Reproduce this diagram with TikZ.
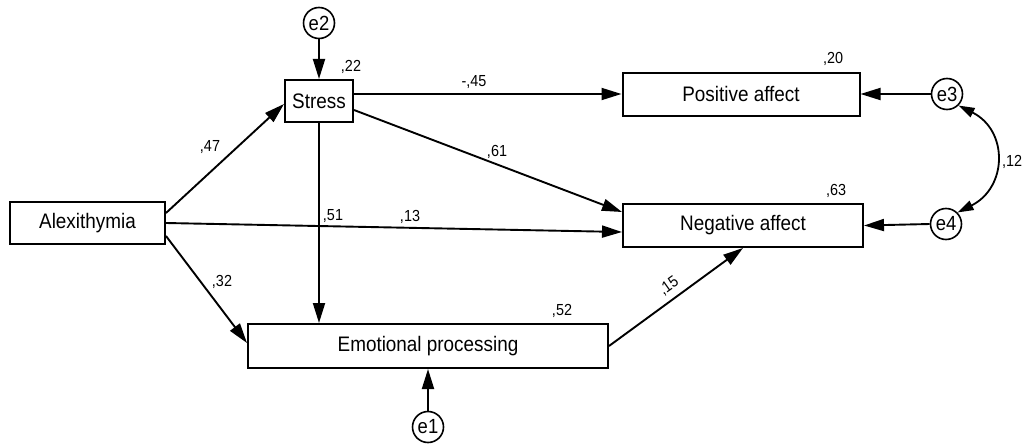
\documentclass[tikz,border=0pt]{standalone}
\usepackage{fontspec}
\setmainfont{Liberation Sans}[FakeStretch=0.9]
\usetikzlibrary{arrows.meta}
\begin{document}
\begin{tikzpicture}[x=1pt,y=-1pt,
  var/.style={draw,line width=2pt,rectangle,inner sep=0pt,font=\fontsize{21}{23}\selectfont},
  err/.style={draw,line width=1.6pt,circle,minimum size=31pt,inner sep=0pt,font=\fontsize{20.5}{22}\selectfont},
  pathar/.style={line width=1.9pt,-{Triangle[length=20pt,width=12pt]}},
  corr/.style={line width=1.8pt,{Triangle[length=16pt,width=10pt]}-{Triangle[length=16pt,width=10pt]}},
  coef/.style={font=\fontsize{16}{18}\selectfont,inner sep=0pt}]
\useasboundingbox (0,0) rectangle (1022,444);
\fill[white] (0,0) rectangle (1022,444);

% variables
\node[var,minimum width=155pt,minimum height=42pt] (alex) at (87.5,223) {Alexithymia};
\node[var,minimum width=68pt,minimum height=42pt] (stress) at (319,101) {Stress};
\node[var,minimum width=237pt,minimum height=43pt] (pos) at (741,94) {Positive affect};
\node[var,minimum width=240pt,minimum height=43pt] (neg) at (743,225.5) {Negative affect};
\node[var,minimum width=360pt,minimum height=44pt] (ep) at (428,346) {Emotional processing};

% error terms
\node[err] (e2) at (319,23) {e2};
\node[err] (e1) at (428,427) {e1};
\node[err] (e3) at (947,94) {e3};
\node[err] (e4) at (946,224) {e4};

% paths
\draw[pathar] ([yshift=10pt]alex.east) -- ([yshift=-3pt]stress.west);
\draw[pathar] (alex.east) -- ([yshift=-6.5pt]neg.west);
\draw[pathar] ([yshift=-13pt]alex.east) -- ([yshift=3pt]ep.west);
\draw[pathar] ([yshift=7pt]stress.east) -- (pos.west);
\draw[pathar] ([yshift=-9pt]stress.east) -- ([yshift=13.5pt]neg.west);
\draw[pathar] (stress.south) -- (stress.south |- ep.north);
\draw[pathar] (ep.east) -- (neg.south);
\draw[pathar] (e2) -- (stress.north);
\draw[pathar] (e1) -- (e1 |- ep.south);
\draw[pathar] (e3.west) -- (e3.west -| pos.east);
\draw[pathar] (e4.west) -- (neg.east);
\draw[corr] (e3.south east) .. controls +(50,25) and +(50,-25) .. (e4.north east);

% coefficients
\node[coef] (c22) at (351,67) {,22};
\node[coef] (c20) at (833,59) {,20};
\node[coef] (c63) at (836,191) {,63};
\node[coef] (c52) at (562,311) {,52};
\node[coef] (c47) at (210,147) {,47};
\node[coef] (c51) at (333,216) {,51};
\node[coef] (c13) at (410,217) {,13};
\node[coef] (c61) at (497,152) {,61};
\node[coef] (c45) at (474,82) {-,45};
\node[coef] (c32) at (222,282) {,32};
\node[coef,rotate=35.5] (c15) at (669,286) {,15};
\node[coef] (c12) at (1012,162) {,12};
\end{tikzpicture}
\end{document}
